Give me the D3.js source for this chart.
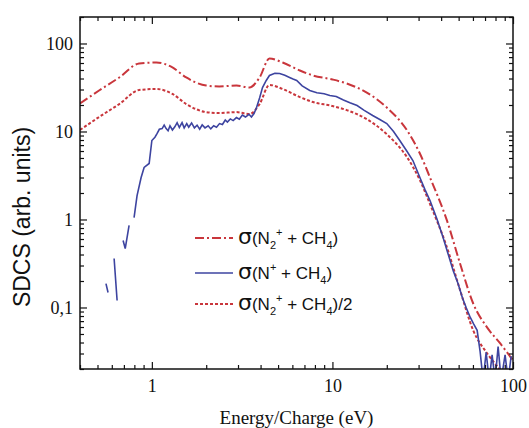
<!DOCTYPE html>
<html>
<head>
<meta charset="utf-8">
<script src="https://cdn.jsdelivr.net/npm/d3@7"></script>
<style>
  body { margin: 0; background: #fff; }
</style>
</head>
<body>
<svg width="529" height="428"></svg>
<script>
// energies for the two N2+ curves (eV)
var redEnergy = [0.4, 0.51, 0.66, 0.85, 1.06, 1.30, 1.55, 2.0, 2.36, 2.94, 3.47, 3.95, 4.48, 5.3, 6.6, 7.8, 10, 12, 15.5, 20, 25.9, 30.5, 34.7, 43.1, 50.9, 60.2, 72, 85, 100];
// sigma(N2+ + CH4), dash-dot
var sigmaN2 = [20.8, 29.2, 41.1, 59.3, 60.8, 53.4, 41.1, 33.3, 32.5, 33.3, 31.6, 41.1, 67.6, 60.8, 49.3, 43.3, 39, 35.1, 27.7, 18.7, 10.3, 5.62, 3.0, 0.97, 0.316, 0.111, 0.059, 0.039, 0.025];
// sigma(N2+ + CH4)/2, dotted
var sigmaN2Half = [10.4, 14.6, 20.5, 29.6, 30.4, 26.7, 20.5, 16.6, 16.2, 16.6, 15.8, 20.5, 33.8, 30.4, 24.6, 21.6, 19.5, 17.5, 13.8, 9.3, 5.1, 2.8, 1.5, 0.48, 0.158, 0.055, 0.030, 0.0195, 0.0125];

// energies for the N+ curve, null = gap in the measured line
var blueEnergy = [0.557, 0.572, null, 0.618, 0.642, null, 0.693, 0.712, 0.748, null,
  0.797, 0.828, 0.872, 0.906, 0.966, 1.0, 1.04, 1.07, 1.10, 1.14, 1.17, 1.20, 1.23, 1.26, 1.30, 1.34, 1.38, 1.42, 1.47, 1.51,
  1.56, 1.60, 1.66, 1.72, 1.78, 1.84, 1.90, 1.97, 2.05, 2.12, 2.20, 2.28, 2.37, 2.46, 2.55, 2.62, 2.72, 2.82, 2.94, 3.05,
  3.17, 3.30, 3.45, 3.56, 3.68, 3.80, 3.95, 4.10, 4.30, 4.48, 4.8, 5.10, 5.45, 5.79, 6.05, 6.34, 6.8, 7.49, 8.2, 9.0,
  9.67, 10.5, 11.5, 12.5, 13.7, 15.0, 16.7, 18.3, 20.0, 21.8, 23.6, 25.8, 27.9, 30.5, 32.5, 34.7, 38, 41.0, 43.5, 46.6,
  49.5, 52.4, 55, 58.0, 60.5, 63.3, 65.7,
  68.3, 71, 73.8, 76.6, 79.6, 82.7, 86, 90.4, 94, 97.7];
// sigma(N+ + CH4), solid
var sigmaN = [0.187, 0.148, null, 0.36, 0.12, null, 0.577, 0.468, 0.855, null,
  1.05, 1.87, 3.0, 3.9, 4.33, 7.9, 8.6, 9.5, 10.6, 10.8, 11.8, 10.8, 10.2, 11.6, 10.4, 11.3, 12.6, 11.1, 12.6, 11.0,
  12.3, 11.2, 12.5, 11.0, 11.8, 10.6, 11.9, 11.0, 11.6, 10.7, 11.6, 11.2, 12.3, 12.0, 13.5, 12.8, 13.9, 13.3, 14.4, 13.8,
  15.4, 14.6, 15.7, 14.6, 16.0, 18.7, 24, 31.6, 38, 43.3, 45.8, 45.6, 43.5, 41.1, 39.5, 38.0, 33, 29.2, 27.5, 26.8,
  25.7, 25.0, 22.8, 21.2, 19.7, 17.4, 15.2, 13.7, 12.3, 10.0, 7.9, 6.0, 4.68, 3.0, 2.2, 1.64, 1.0, 0.624, 0.42, 0.263,
  0.19, 0.13, 0.1, 0.077, 0.065, 0.055, 0.032,
  0.015, 0.031, 0.015, 0.029, 0.015, 0.036, 0.015, 0.029, 0.015, 0.028];

var xTicks = [1, 10, 100];
var xTickLabels = ["1", "10", "100"];
var yTicks = [0.1, 1, 10, 100];
var yTickLabels = ["0,1", "1", "10", "100"];

var red = "#c9363c", blue = "#3d44a0";

var svg = d3.select("svg"),
    margin = {top: 17, right: 16, bottom: 59, left: 80},
    width = +svg.attr("width") - margin.left - margin.right,
    height = +svg.attr("height") - margin.top - margin.bottom,
    g = svg.append("g").attr("transform", "translate(" + margin.left + "," + margin.top + ")");

var x = d3.scaleLog().domain([0.4, 100]).range([0, width]);
var y = d3.scaleLog().domain([0.02, 200]).range([height, 0]);

// minor tick positions (2..9 in each decade)
function minors(lo, hi) {
  var out = [];
  for (var p = Math.floor(Math.log10(lo)); p <= Math.ceil(Math.log10(hi)); p++) {
    for (var k = 2; k <= 9; k++) {
      var v = k * Math.pow(10, p);
      if (v >= lo * 0.999 && v <= hi * 1.001) out.push(v);
    }
  }
  return out;
}
var xMinor = minors(0.4, 100), yMinor = minors(0.02, 200);

g.append("clipPath").attr("id", "clip")
  .append("rect").attr("width", width).attr("height", height);

var plot = g.append("g").attr("clip-path", "url(#clip)");

var redLine = d3.line()
    .x(function(d) { return x(d[0]); })
    .y(function(d) { return y(d[1]); })
    .curve(d3.curveMonotoneX);

plot.append("path")
    .datum(d3.zip(redEnergy, sigmaN2))
    .attr("fill", "none")
    .attr("stroke", red)
    .attr("stroke-width", 2)
    .attr("stroke-dasharray", "9,3,2,3")
    .attr("d", redLine);

plot.append("path")
    .datum(d3.zip(redEnergy, sigmaN2Half))
    .attr("fill", "none")
    .attr("stroke", red)
    .attr("stroke-width", 2)
    .attr("stroke-dasharray", "3,2")
    .attr("d", redLine);

var blueLine = d3.line()
    .defined(function(d) { return d[0] != null && d[1] != null; })
    .x(function(d) { return x(d[0]); })
    .y(function(d) { return y(d[1]); });

plot.append("path")
    .datum(d3.zip(blueEnergy, sigmaN))
    .attr("fill", "none")
    .attr("stroke", blue)
    .attr("stroke-width", 1.6)
    .attr("d", blueLine);

//AXES - ticks point inward on all four sides
function styleAxis(sel) {
  sel.select(".domain").remove();
  sel.selectAll("line").attr("stroke", "#111").attr("stroke-width", 1.2);
  sel.selectAll("text")
    .attr("font-family", "'Liberation Serif', 'Times New Roman', serif")
    .attr("font-size", 18)
    .attr("fill", "#111");
}

g.append("g").attr("transform", "translate(0," + height + ")")
  .call(d3.axisBottom(x).tickValues(xTicks).tickSize(-7).tickPadding(10)
    .tickFormat(function(d, i) { return xTickLabels[i]; }))
  .call(styleAxis);
g.append("g").attr("transform", "translate(0," + height + ")")
  .call(d3.axisBottom(x).tickValues(xMinor).tickSize(-4).tickFormat(""))
  .call(styleAxis);
g.append("g")
  .call(d3.axisTop(x).tickValues(xTicks).tickSize(-7).tickFormat(""))
  .call(styleAxis);
g.append("g")
  .call(d3.axisTop(x).tickValues(xMinor).tickSize(-4).tickFormat(""))
  .call(styleAxis);

g.append("g")
  .call(d3.axisLeft(y).tickValues(yTicks).tickSize(-7).tickPadding(7)
    .tickFormat(function(d, i) { return yTickLabels[i]; }))
  .call(styleAxis);
g.append("g")
  .call(d3.axisLeft(y).tickValues(yMinor).tickSize(-4).tickFormat(""))
  .call(styleAxis);
g.append("g").attr("transform", "translate(" + width + ",0)")
  .call(d3.axisRight(y).tickValues(yTicks).tickSize(-7).tickFormat(""))
  .call(styleAxis);
g.append("g").attr("transform", "translate(" + width + ",0)")
  .call(d3.axisRight(y).tickValues(yMinor).tickSize(-4).tickFormat(""))
  .call(styleAxis);

// frame
g.append("rect")
  .attr("width", width).attr("height", height)
  .attr("fill", "none").attr("stroke", "#111").attr("stroke-width", 1.5);

// axis titles
svg.append("text")
  .attr("x", margin.left + width / 2)
  .attr("y", 424)
  .attr("text-anchor", "middle")
  .attr("font-family", "'Liberation Serif', 'Times New Roman', serif")
  .attr("font-size", 19)
  .attr("fill", "#111")
  .text("Energy/Charge (eV)");

svg.append("text")
  .attr("transform", "translate(30,217) rotate(-90)")
  .attr("text-anchor", "middle")
  .attr("font-family", "'Liberation Sans', Arial, sans-serif")
  .attr("font-size", 23)
  .attr("fill", "#111")
  .text("SDCS (arb. units)");

//LEGEND
var legendItems = [
  {dash: "9,3,2,3", color: red, width: 2, sub: "2", ion: "N", tail: ")"},
  {dash: null, color: blue, width: 1.6, sub: null, ion: "N", tail: ")"},
  {dash: "3,2", color: red, width: 2, sub: "2", ion: "N", tail: ")/2"}
];

var legend = svg.append("g")
    .attr("font-family", "'Liberation Sans', Arial, sans-serif")
    .attr("fill", "#111")
  .selectAll("g")
  .data(legendItems)
  .enter().append("g")
    .attr("transform", function(d, i) { return "translate(195," + [238, 273, 304][i] + ")"; });

legend.append("line")
    .attr("x1", 0).attr("x2", 38)
    .attr("stroke", function(d) { return d.color; })
    .attr("stroke-width", function(d) { return d.width; })
    .attr("stroke-dasharray", function(d) { return d.dash; });

var lt = legend.append("text")
    .attr("x", 43)
    .attr("y", 6)
    .attr("font-size", 17);

lt.append("tspan").attr("font-size", 22).attr("font-family", "'DejaVu Sans', sans-serif").text("σ");
lt.append("tspan").text(function(d) { return "(" + d.ion; });
lt.filter(function(d) { return d.sub; })
  .append("tspan").attr("font-size", 11).attr("dy", 5).text(function(d) { return d.sub; });
lt.append("tspan").attr("font-size", 11)
  .attr("dy", function(d) { return d.sub ? -13 : -8; })
  .text("+");
lt.append("tspan").attr("dy", 8).text(" + CH");
lt.append("tspan").attr("font-size", 11).attr("dy", 5).text("4");
lt.append("tspan").attr("dy", -5).text(function(d) { return d.tail; });
</script>
</body>
</html>
